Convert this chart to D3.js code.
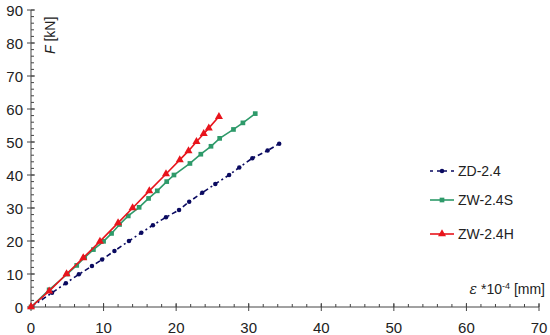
<!DOCTYPE html>
<html>
<head>
<meta charset="utf-8">
<script src="https://cdn.jsdelivr.net/npm/d3@7"></script>
<style>
  body { margin: 0; background: #fff; }
  text { font-family: "Liberation Sans", Arial, sans-serif; fill: #222; }
</style>
</head>
<body>
<div class="box"></div>
<script>
// valeurs : [eps *10^-4 mm, F kN]
const zd24 = [[0,0],[2.9,4.3],[4.8,7.2],[6.6,9.9],[8.4,12.4],[9.8,14.4],[11.5,17],[13.5,20],[15.2,22.5],[16.8,24.8],[18.6,27.2],[20.4,29.4],[21.8,31.9],[23.6,34.6],[25.4,37.3],[27.3,40],[28.7,42.3],[30.5,45.1],[32.6,47.4],[34.2,49.5]];
const zw24s = [[0,0],[2.5,5.2],[5,10],[6.3,12.6],[7.4,15],[8.6,17.4],[10,19.9],[11.1,22.3],[12.2,25],[13.4,27.6],[14.9,30.2],[16.2,32.9],[17.4,35.2],[18.7,38],[19.7,40],[21.9,43.5],[23.4,46.3],[24.8,48.7],[26,51.1],[27.9,53.8],[29.2,55.8],[30.9,58.6]];
const zw24h = [[0,0],[2.5,4.8],[4.9,10],[7.2,14.9],[9.5,19.9],[12,25.5],[14,30],[16.3,35.2],[18.6,40.3],[20.5,44.6],[21.7,47.3],[22.8,50.1],[23.8,52.5],[24.5,54.2],[25.9,57.7]];

const seriesNames = ['ZD-2.4', 'ZW-2.4S', 'ZW-2.4H'];
const xTicks = [0, 10, 20, 30, 40, 50, 60, 70];
const yTicks = [0, 10, 20, 30, 40, 50, 60, 70, 80, 90];

const series = [
    {name: seriesNames[0], data: zd24, color: '#0a0a60', shape: 'dot', dash: '5,3,2,3'},
    {name: seriesNames[1], data: zw24s, color: '#2e9a6a', shape: 'square', dash: null},
    {name: seriesNames[2], data: zw24h, color: '#e8141c', shape: 'triangle', dash: null}
];

const dims = {width: 550, height: 335};
const x0 = 31, x1 = 539, y0 = 307, y1 = 10;

const svg = d3.select('.box')
              .append('svg')
              .attr('width', dims.width)
              .attr('height', dims.height);

const x = d3.scaleLinear().domain([0, 70]).range([x0, x1]);
const y = d3.scaleLinear().domain([0, 90]).range([y0, y1]);

// axe x : petites graduations vers le haut, grandes qui traversent
const xAxis = svg.append('g');
xAxis.append('line')
     .attr('x1', x0).attr('x2', x1).attr('y1', y0).attr('y2', y0)
     .attr('stroke', '#444').attr('stroke-width', 1);
xAxis.selectAll('.minor')
     .data(d3.range(0, 71, 2))
     .join('line')
     .attr('x1', d => x(d)).attr('x2', d => x(d))
     .attr('y1', y0).attr('y2', y0 - 3)
     .attr('stroke', '#444');
xAxis.selectAll('.major')
     .data(xTicks)
     .join('line')
     .attr('x1', d => x(d)).attr('x2', d => x(d))
     .attr('y1', y0 - 4).attr('y2', y0 + 4)
     .attr('stroke', '#444');
xAxis.selectAll('text')
     .data(xTicks)
     .join('text')
     .attr('x', d => x(d))
     .attr('y', 333)
     .attr('text-anchor', 'middle')
     .attr('font-size', 15)
     .text(d => d);

// axe y
const yAxis = svg.append('g');
yAxis.append('line')
     .attr('x1', x0).attr('x2', x0).attr('y1', y0).attr('y2', y1)
     .attr('stroke', '#444');
yAxis.selectAll('.minor')
     .data(d3.range(0, 91, 2))
     .join('line')
     .attr('x1', x0).attr('x2', x0 + 3)
     .attr('y1', d => y(d)).attr('y2', d => y(d))
     .attr('stroke', '#444');
yAxis.selectAll('.major')
     .data(yTicks)
     .join('line')
     .attr('x1', x0 - 4).attr('x2', x0 + 4)
     .attr('y1', d => y(d)).attr('y2', d => y(d))
     .attr('stroke', '#444');
yAxis.selectAll('text')
     .data(yTicks)
     .join('text')
     .attr('x', 23)
     .attr('y', d => y(d) + 5.5)
     .attr('text-anchor', 'end')
     .attr('font-size', 15)
     .text(d => d);

// titres des axes
const yLab = svg.append('text')
                .attr('transform', 'translate(55, 54) rotate(-90)')
                .attr('font-size', 14);
yLab.append('tspan').attr('font-style', 'italic').text('F');
yLab.append('tspan').text('  [kN]');

const xLab = svg.append('text')
                .attr('x', 545).attr('y', 294)
                .attr('text-anchor', 'end')
                .attr('font-size', 14);
xLab.append('tspan').attr('font-style', 'italic')
    .attr('font-family', 'DejaVu Serif, serif').text('ε');
xLab.append('tspan').text(' *10');
xLab.append('tspan').attr('font-size', 9).attr('dy', -5).text('-4');
xLab.append('tspan').attr('dy', 5).text(' [mm]');

// marqueurs
const symbolOf = shape => {
    if (shape === 'square') return d3.symbol(d3.symbolSquare, 22);
    if (shape === 'triangle') return d3.symbol(d3.symbolTriangle, 28);
    return d3.symbol(d3.symbolCircle, 16);
};

const line = d3.line()
               .x(d => x(d[0]))
               .y(d => y(d[1]));

const graph = svg.append('g');

series.forEach(s => {
    graph.append('path')
         .attr('d', line(s.data))
         .attr('fill', 'none')
         .attr('stroke', s.color)
         .attr('stroke-width', 1.6)
         .attr('stroke-dasharray', s.dash);
    graph.selectAll(null)
         .data(s.data)
         .join('path')
         .attr('d', symbolOf(s.shape))
         .attr('transform', d => `translate(${x(d[0])}, ${y(d[1])})`)
         .attr('fill', s.color);
});

// légende
const legend = svg.append('g');
const legY = [171, 200, 234];
series.forEach((s, i) => {
    const g = legend.append('g').attr('transform', `translate(430, ${legY[i]})`);
    g.append('line')
     .attr('x1', 0).attr('x2', 24)
     .attr('stroke', s.color).attr('stroke-width', 1.6)
     .attr('stroke-dasharray', s.dash ? '3,4' : null);
    g.append('path')
     .attr('d', symbolOf(s.shape))
     .attr('transform', 'translate(12, 0)')
     .attr('fill', s.color);
    g.append('text')
     .attr('x', 28).attr('y', 5)
     .attr('font-size', 14)
     .text(s.name);
});
</script>
</body>
</html>
